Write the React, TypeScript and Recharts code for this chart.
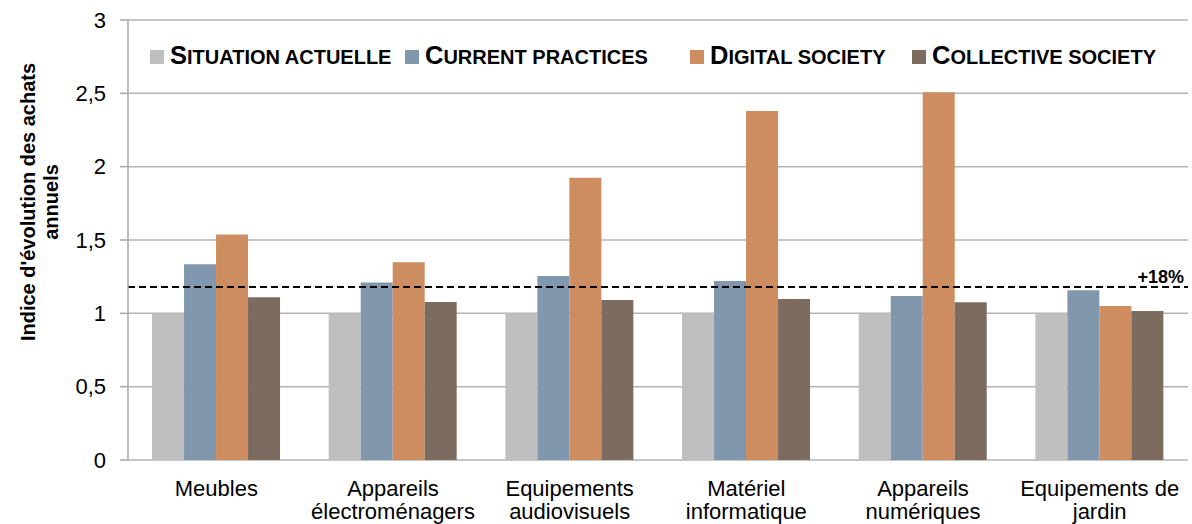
import React from "react";
import {
  BarChart,
  Bar,
  XAxis,
  YAxis,
  CartesianGrid,
  ReferenceLine,
  Legend,
} from "recharts";

const categoryLines = [
  ["Meubles"],
  ["Appareils", "électroménagers"],
  ["Equipements", "audiovisuels"],
  ["Matériel", "informatique"],
  ["Appareils", "numériques"],
  ["Equipements de", "jardin"],
];
const categories = categoryLines.map((l) => l.join(" "));
const situationActuelle = [1, 1, 1, 1, 1, 1];
const currentPractices = [1.334, 1.211, 1.254, 1.22, 1.118, 1.157];
const digitalSociety = [1.538, 1.348, 1.924, 2.379, 2.507, 1.05];
const collectiveSociety = [1.109, 1.077, 1.091, 1.097, 1.075, 1.016];
const yTicks = [0, 0.5, 1, 1.5, 2, 2.5, 3];
const boundaryTicks = [0, 1, 2, 3, 4, 5, 6];
const averageIncrease = 1.18;
const averageLabel = "+18%";

const seriesNames = [
  "Situation actuelle",
  "Current practices",
  "Digital society",
  "Collective society",
];
const seriesColors = ["#BFBFBF", "#8097AE", "#CD8D60", "#7C6B5F"];
const legendSlotWidths = [255, 285, 222, 260];

const data = categories.map((c, i) => ({
  name: c,
  s0: situationActuelle[i],
  s1: currentPractices[i],
  s2: digitalSociety[i],
  s3: collectiveSociety[i],
}));

const FONT = "'Liberation Sans', Arial, sans-serif";

const fmt = (v: number) => String(v).replace(".", ",");

const XTick = (props: any) => {
  const { x, y, index } = props;
  const lines = categoryLines[index] || [String(props.payload?.value ?? "")];
  return (
    <text
      x={x}
      y={y}
      textAnchor="middle"
      style={{ fontFamily: FONT, fontSize: 22, fill: "#000" }}
    >
      {lines.map((l: string, k: number) => (
        <tspan key={k} x={x} y={y + 36 + k * 23}>
          {l}
        </tspan>
      ))}
    </text>
  );
};

const YTitle = (props: any) => {
  const vb = props.viewBox || { x: 0, y: 20, width: 128, height: 440 };
  const cy = vb.y + vb.height / 2 - 38;
  const x1 = 35;
  const x2 = 58;
  return (
    <g style={{ fontFamily: FONT, fontSize: 20, fontWeight: "bold", fill: "#000" }}>
      <text x={x1} y={cy} textAnchor="middle" transform={`rotate(-90, ${x1}, ${cy})`}>
        Indice d'évolution des achats
      </text>
      <text x={x2} y={cy} textAnchor="middle" transform={`rotate(-90, ${x2}, ${cy})`}>
        annuels
      </text>
    </g>
  );
};

const LegendContent = () => (
  <div
    style={{
      display: "flex",
      justifyContent: "flex-start",
      alignItems: "center",
      fontFamily: FONT,
      fontWeight: "bold",
      color: "#000",
    }}
  >
    {seriesNames.map((n, i) => (
      <div
        key={n}
        style={{ display: "flex", alignItems: "center", width: legendSlotWidths[i], flex: "none" }}
      >
        <span
          style={{
            display: "inline-block",
            width: 14,
            height: 14,
            background: seriesColors[i],
            marginRight: 6,
            flex: "none",
          }}
        />
        <span style={{ whiteSpace: "nowrap", lineHeight: "24px" }}>
          <span style={{ fontSize: 25.5 }}>{n[0].toUpperCase()}</span>
          <span style={{ fontSize: 20 }}>{n.slice(1).toUpperCase()}</span>
        </span>
      </div>
    ))}
  </div>
);

export default function App() {
  return (
    <div style={{ position: "absolute", left: 0, top: 0, background: "#fff" }}>
      <BarChart
        width={1192}
        height={524}
        data={data}
        margin={{ top: 20, right: 4, bottom: 0, left: 0 }}
        barCategoryGap="13.6%"
        barGap={0}
      >
        <CartesianGrid vertical={false} stroke="#B3B3B3" strokeWidth={1.5} />
        <XAxis
          xAxisId="bounds"
          type="number"
          domain={[0, 6]}
          ticks={boundaryTicks}
          tick={false}
          height={0}
          axisLine={{ stroke: "#A6A6A6", strokeWidth: 1.5 }}
          tickLine={{ stroke: "#A6A6A6", strokeWidth: 1.5 }}
          tickSize={7}
          allowDataOverflow
        />
        <XAxis
          dataKey="name"
          height={64}
          axisLine={false}
          tickLine={false}
          tickSize={0}
          tickMargin={0}
          interval={0}
          tick={<XTick />}
        />
        <YAxis
          width={128}
          domain={[0, 3]}
          ticks={yTicks}
          tickFormatter={fmt}
          axisLine={{ stroke: "#A6A6A6", strokeWidth: 1.5 }}
          tickLine={{ stroke: "#A6A6A6", strokeWidth: 1.5 }}
          tickSize={8}
          tickMargin={14}
          tick={{ fontFamily: FONT, fontSize: 22, fill: "#000" }}
          label={<YTitle />}
        />
        <Legend
          verticalAlign="middle"
          align="center"
          content={<LegendContent />}
          wrapperStyle={{ position: "absolute", top: 43, left: 150, width: 1040, height: 24 }}
        />
        {seriesNames.map((n, i) => (
          <Bar
            key={n}
            dataKey={`s${i}`}
            name={n}
            fill={seriesColors[i]}
            isAnimationActive={false}
          />
        ))}
        <ReferenceLine
          y={averageIncrease}
          stroke="#000"
          strokeWidth={2}
          strokeDasharray="7 4"
          label={{
            value: averageLabel,
            position: "insideBottomRight",
            offset: 4,
            style: { fontFamily: FONT, fontSize: 18, fontWeight: "bold", fill: "#000" },
          }}
        />
      </BarChart>
    </div>
  );
}
